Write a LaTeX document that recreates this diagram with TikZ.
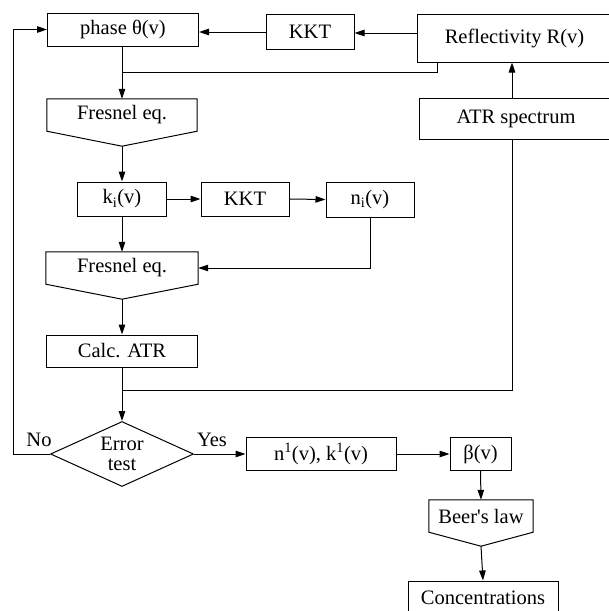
\documentclass[tikz,border=0pt]{standalone}
\usepackage{fontspec}
\setmainfont{Liberation Serif}
\usetikzlibrary{arrows.meta,shapes.geometric,calc}
\begin{document}
\begin{tikzpicture}[x=1pt,y=-1pt,
  every node/.style={font=\fontsize{20.5}{20}\selectfont, inner sep=0pt, align=center},
  box/.style={draw, line width=1pt, rectangle, minimum width=#1},
  box/.default=88pt,
  txt/.style={rectangle, minimum width=#1, minimum height=32pt},
  link/.style={line width=1pt},
  arr/.style={link, -{Triangle[length=10pt,width=6.5pt]}},
  dec/.style={draw, line width=1pt, diamond, aspect=2.2, minimum width=143pt, minimum height=65pt},
  lbl/.style={font=\fontsize{20.5}{20}\selectfont}
]
\useasboundingbox (0,0) rectangle (609,611);
\clip (0,0) rectangle (609,611);

% boxes
\node[box=151pt, minimum height=33pt] (phase) at (123,29.5) {phase θ(v)};
\node[box=88pt, minimum height=35pt] (kkt1) at (310,31.5) {KKT};
\node[box=195pt, minimum height=48pt] (refl) at (514.5,38) {Reflectivity R(v)};
\node[box=194pt, minimum height=41pt] (atr) at (516,118.5) {ATR spectrum};
\node[txt=150pt] (fres1) at (122,115) {Fresnel eq.};
\node[box=89pt, minimum height=34pt] (ki) at (122,199) {k\textsubscript{i}(v)};
\node[box=88pt, minimum height=34pt] (kkt2) at (245,199) {KKT};
\node[box=88pt, minimum height=35pt] (ni) at (370,199.5) {n\textsubscript{i}(v)};
\node[txt=152pt] (fres2) at (122,268) {Fresnel eq.};
\node[box=151pt, minimum height=32pt] (calc) at (122,351) {Calc. ATR};
\node[dec] (err) at (122,454) {Error\\test};
\node[box=150pt, minimum height=33pt] (nk) at (321,454) {n\textsuperscript{1}(v), k\textsuperscript{1}(v)};
\node[box=61pt, minimum height=33pt] (beta) at (480.5,454) {β(v)};
\node[txt=104pt] (beer) at (481,516) {Beer\textquotesingle s law};
\node[box=150pt, minimum height=33pt] (conc) at (483,597.5) {Concentrations};

% pentagon outlines
\coordinate (fres1tip) at ($(fres1.south)+(0,15)$);
\coordinate (fres2tip) at ($(fres2.south)+(0,15)$);
\coordinate (beertip) at ($(beer.south)+(0,14)$);
\draw[link] (fres1.north west) -- (fres1.north east) -- (fres1.south east) -- (fres1tip) -- (fres1.south west) -- cycle;
\draw[link] (fres2.north west) -- (fres2.north east) -- (fres2.south east) -- (fres2tip) -- (fres2.south west) -- cycle;
\draw[link] (beer.north west) -- (beer.north east) -- (beer.south east) -- (beertip) -- (beer.south west) -- cycle;

% junction points
\coordinate (reflout) at ($(refl.south west)+(21,0)$);
\coordinate (j1) at (fres1.north |- 0,72);
\coordinate (j2) at (calc.south |- 0,390);
\coordinate (nocorner) at (13,454);
\coordinate (phasein) at (13,29.5);

% connectors
\draw[arr] (refl.west |- 0,33) -- (kkt1.east |- 0,33);
\draw[arr] (kkt1.west |- 0,32) -- (phase.east |- 0,32);
\draw[arr] (phase.south -| fres1.north) -- (fres1.north);
\draw[link] (reflout) |- (j1);
\draw[arr] (fres1tip) -- (ki.north);
\draw[arr] (ki.east) -- (kkt2.west);
\draw[arr] (kkt2.east) -- (ni.west);
\draw[arr] (ni.south) |- (fres2.east);
\draw[arr] (ki.south) -- (fres2.north);
\draw[arr] (fres2tip) -- (calc.north);
\draw[arr] (atr.north -| 512,0) -- (refl.south -| 512,0);
\draw[link] (atr.south -| 512,0) |- (j2);
\draw[arr] (calc.south) -- (err.north);
\draw[arr] (err.west) -- (nocorner) -- (phasein) -- (phase.west);
\draw[arr] (err.east) -- (nk.west);
\draw[arr] (nk.east) -- (beta.west);
\draw[arr] (beta.south) -- (beer.north);
\draw[arr] (beertip) -- (conc.north);

% labels
\node[lbl] (nolbl) at (39,440) {No};
\node[lbl] (yeslbl) at (212,440) {Yes};
\end{tikzpicture}
\end{document}
